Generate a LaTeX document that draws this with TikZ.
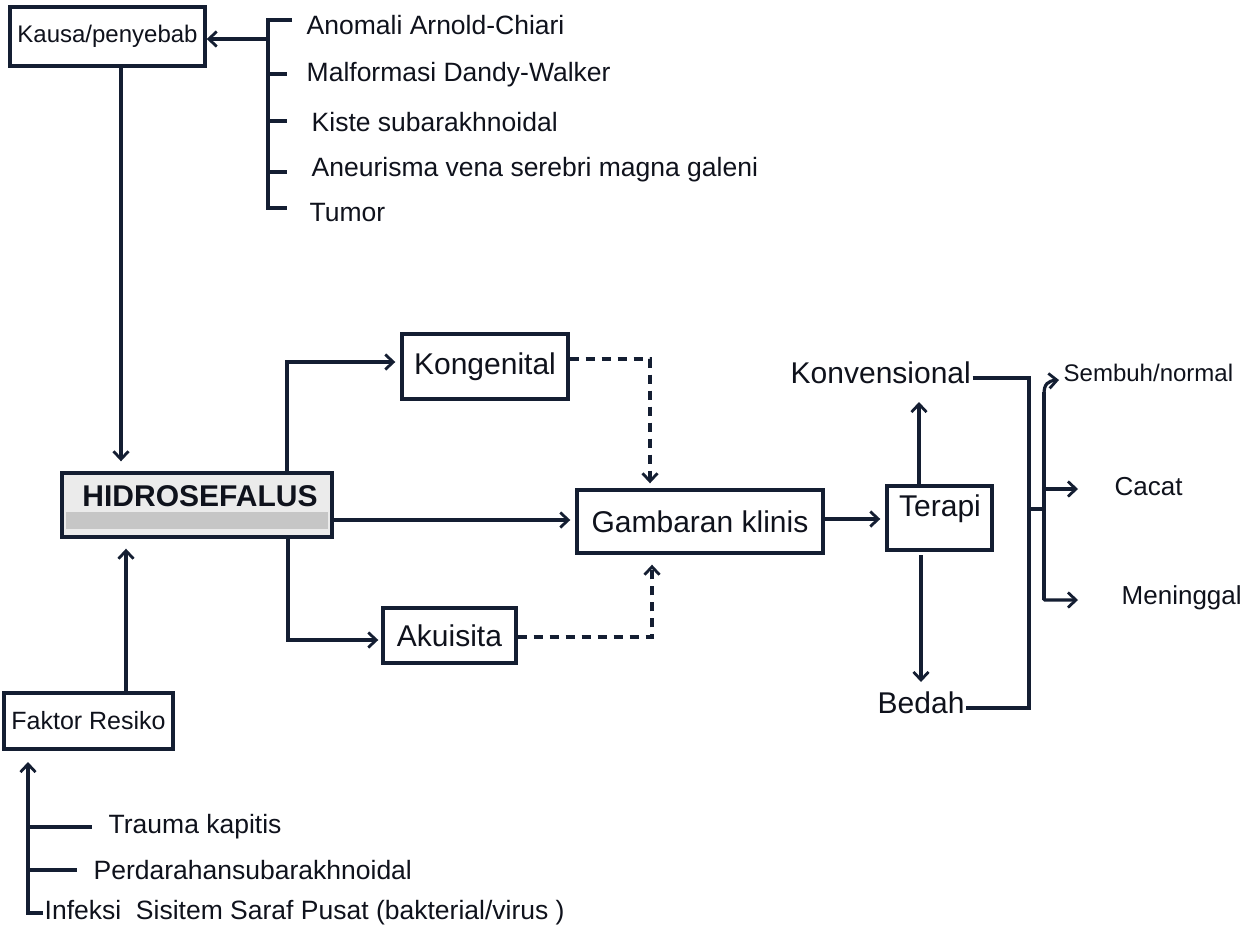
\documentclass[tikz,border=0pt]{standalone}
\usepackage{fontspec}
\setmainfont{Liberation Sans}
\usetikzlibrary{arrows.meta}
\definecolor{ink}{RGB}{20,30,50}
\definecolor{txt}{RGB}{15,18,28}
\newcommand\fsz[1]{\fontsize{#1}{#1}\selectfont}
\begin{document}
\begin{tikzpicture}[x=1pt,y=-1pt,
  line width=3.4pt,
  every node/.style={text=txt, inner sep=0pt},
  box/.style={draw=ink, line width=3.4pt, fill=white},
  lbl/.style={anchor=west},
  ln/.style={draw=ink, line width=3.2pt},
  arr/.style={ln, -{Straight Barb[length=8pt,width=15pt,line width=2.8pt]}},
  dsh/.style={dash pattern=on 9pt off 7pt},
]
\path[use as bounding box, fill=white] (0,0) rectangle (1256,929);

% boxes
\node[box,minimum width=195pt,minimum height=59pt] (kausa) at (107.5,36.5) {\fsz{24}Kausa/penyebab};
\node[box,fill=gray!16,minimum width=270pt,minimum height=64pt] (hidro) at (197,505) {};
\fill[gray!45] (66,512) rectangle (328,529);
\node[font=\bfseries] (hidrot) at (200,496) {\fsz{30}HIDROSEFALUS};
\node[box,minimum width=169pt,minimum height=56pt] (faktor) at (88.5,721) {\fsz{25}Faktor Resiko};
\node[box,minimum width=166pt,minimum height=65pt] (kong) at (485,366.5) {\fsz{30}Kongenital};
\node[box,minimum width=133pt,minimum height=55pt] (akui) at (449.5,635.5) {\fsz{30}Akuisita};
\node[box,minimum width=246pt,minimum height=63pt] (gamb) at (700,521.5) {\fsz{30}Gambaran klinis};
\node[box,minimum width=105pt,minimum height=64pt] (terapi) at (939.5,518) {};
\node (terapit) at (940,509) {\fsz{30}Terapi};

% causes list
\node[lbl] (c1) at (305,25) {\fsz{26.5}Anomali Arnold-Chiari};
\node[lbl] (c2) at (305,75) {\fsz{26.5}Malformasi Dandy-Walker};
\node[lbl] (c3) at (310,122) {\fsz{26.5}Kiste subarakhnoidal};
\node[lbl] (c4) at (310,170) {\fsz{26.5}Aneurisma vena serebri magna galeni};
\node[lbl] (c5) at (308,213) {\fsz{26.5}Tumor};

% risk list
\node[lbl] (r1) at (107,827) {\fsz{26.5}Trauma kapitis};
\node[lbl] (r2) at (92,870) {\fsz{26.5}Perdarahansubarakhnoidal};
\node[lbl] (r3) at (43,913) {\fsz{26.5}Infeksi\ \ Sisitem Saraf Pusat (bakterial/virus )};

% therapy / outcome labels
\node[lbl] (konv) at (789,373) {\fsz{30}Konvensional};
\node[lbl] (bedah) at (876,703) {\fsz{30}Bedah};
\node[lbl] (semb) at (1062,373) {\fsz{24}Sembuh/normal};
\node[lbl] (cacat) at (1113,487) {\fsz{26}Cacat};
\node[lbl] (men) at (1120,598) {\fsz{26}Meninggal};

% coordinates
\coordinate (kb) at (268,39);
\coordinate (rtop) at (28,762);
\coordinate (jn) at (1044,509);

% causes bracket
\draw[ln] (292,20) -- (268,20) -- (268,208) -- (287,208);
\draw[ln] (268,74) -- (287,74);
\draw[ln] (268,121) -- (287,121);
\draw[ln] (268,172) -- (287,172);
\draw[arr] (kb) -- (kausa.east |- kb);

% kausa -> hidro, faktor -> hidro
\draw[arr, shorten >=10pt] (kausa.south -| 121,0) -- (hidro.north -| 121,0);
\draw[arr, shorten >=10pt] (faktor.north -| 126,0) -- (hidro.south -| 126,0);

% risk bracket
\draw[arr] (r3.west) -- (28,913) -- (rtop);
\draw[ln] (28,827) -- (92,827);
\draw[ln] (28,870) -- (77,870);

% hidro branches
\draw[arr, shorten >=5pt] (hidro.north -| 287,0) -- (287,362) -- (kong.west |- 0,362);
\draw[arr, shorten >=5pt] (hidro.east |- 0,520) -- (gamb.west |- 0,520);
\draw[arr, shorten >=3pt] (hidro.south -| 288,0) -- (288,640) -- (akui.west |- 0,640);

% dashed to gambaran
\draw[arr, dsh, shorten >=5pt] (kong.east |- 0,359) -- (650,359) -- (gamb.north -| 650,0);
\draw[arr, dsh, shorten >=10pt] (akui.east |- 0,637) -- (652,637) -- (gamb.south -| 652,0);

% gambaran -> terapi
\draw[arr, shorten >=5pt] (gamb.east |- 0,519) -- (terapi.west |- 0,519);

% terapi up/down
\draw[arr] (terapi.north -| 919,0) -- (919,402);
\draw[arr] (921,555) -- (921,682);

% collector lines
\draw[ln] ([yshift=-5pt]konv.east) -- (1029,378) -- (1029,708) -- ([yshift=-5pt]bedah.east);
\draw[ln] (1029,509) -- (jn);
\draw[ln] (1044,600) -- (1044,392);
\draw[arr] (1044,394) .. controls (1044,384) and (1048,381) .. (1059,380);
\draw[arr] (1044,489) -- (1078,489);
\draw[arr, rounded corners=1pt] (1044,598) -- (1044,600) -- (1078,600);
\end{tikzpicture}
\end{document}
